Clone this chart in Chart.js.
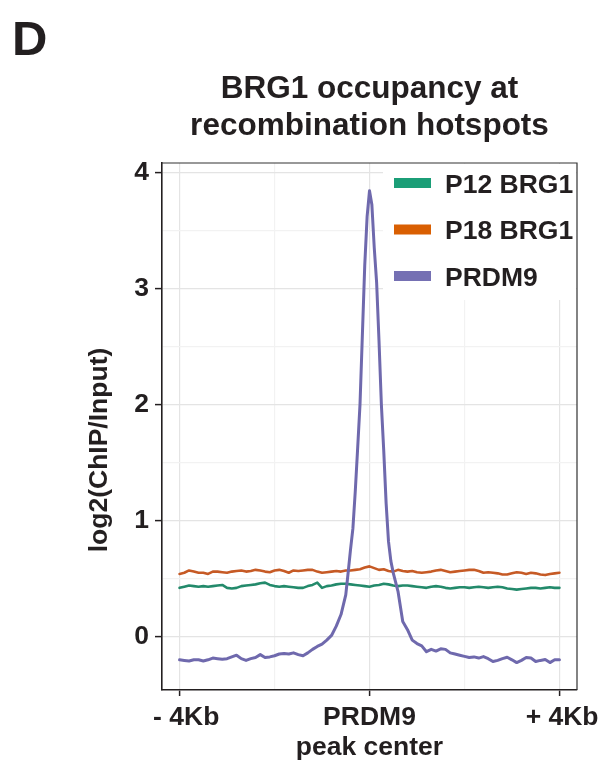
<!DOCTYPE html>
<html>
<head>
<meta charset="utf-8">
<script src="https://cdn.jsdelivr.net/npm/chart.js@4.4.0/dist/chart.umd.min.js"></script>
<style>
  html, body { margin: 0; padding: 0; background: #fff; }
  #wrap { width: 615px; height: 767px; }
</style>
</head>
<body>
<div id="wrap"><canvas id="profile"></canvas></div>
<script>
// distance from PRDM9 peak center (kb), 100 bp bins, shared by the BRG1 tracks
const binsKb = [-4.0, -3.9, -3.8, -3.7, -3.6, -3.5, -3.4, -3.3, -3.2, -3.1,
  -3.0, -2.9, -2.8, -2.7, -2.6, -2.5, -2.4, -2.3, -2.2, -2.1,
  -2.0, -1.9, -1.8, -1.7, -1.6, -1.5, -1.4, -1.3, -1.2, -1.1,
  -1.0, -0.9, -0.8, -0.7, -0.6, -0.5, -0.4, -0.3, -0.2, -0.1,
  0.0, 0.1, 0.2, 0.3, 0.4, 0.5, 0.6, 0.7, 0.8, 0.9,
  1.0, 1.1, 1.2, 1.3, 1.4, 1.5, 1.6, 1.7, 1.8, 1.9,
  2.0, 2.1, 2.2, 2.3, 2.4, 2.5, 2.6, 2.7, 2.8, 2.9,
  3.0, 3.1, 3.2, 3.3, 3.4, 3.5, 3.6, 3.7, 3.8, 3.9, 4.0];

const p12Brg1 = [0.42, 0.43, 0.44, 0.435, 0.43, 0.435, 0.43, 0.435, 0.44, 0.445,
  0.42, 0.415, 0.42, 0.435, 0.44, 0.445, 0.45, 0.46, 0.465, 0.445,
  0.435, 0.43, 0.435, 0.43, 0.425, 0.42, 0.42, 0.435, 0.445, 0.465,
  0.42, 0.435, 0.44, 0.45, 0.455, 0.455, 0.45, 0.445, 0.44, 0.435,
  0.43, 0.44, 0.445, 0.455, 0.45, 0.44, 0.435, 0.44, 0.44, 0.435,
  0.43, 0.425, 0.42, 0.43, 0.435, 0.43, 0.42, 0.415, 0.42, 0.425,
  0.425, 0.42, 0.425, 0.43, 0.425, 0.42, 0.425, 0.43, 0.425, 0.415,
  0.41, 0.405, 0.41, 0.415, 0.42, 0.42, 0.415, 0.42, 0.425, 0.42, 0.42];

const p18Brg1 = [0.54, 0.55, 0.57, 0.56, 0.55, 0.55, 0.54, 0.56, 0.56, 0.555,
  0.55, 0.56, 0.565, 0.57, 0.56, 0.565, 0.575, 0.57, 0.56, 0.555,
  0.57, 0.575, 0.565, 0.55, 0.57, 0.565, 0.57, 0.575, 0.575, 0.56,
  0.55, 0.555, 0.56, 0.565, 0.56, 0.57, 0.57, 0.575, 0.58, 0.595,
  0.605, 0.59, 0.575, 0.58, 0.565, 0.56, 0.575, 0.565, 0.56, 0.565,
  0.555, 0.55, 0.555, 0.56, 0.57, 0.575, 0.565, 0.555, 0.56, 0.565,
  0.57, 0.575, 0.575, 0.565, 0.55, 0.555, 0.55, 0.545, 0.535, 0.535,
  0.545, 0.555, 0.55, 0.54, 0.55, 0.545, 0.535, 0.53, 0.54, 0.545, 0.55];

// PRDM9 is binned more finely around the summit
const prdm9Kb = [-4.0, -3.9, -3.8, -3.7, -3.6, -3.5, -3.4, -3.3, -3.2, -3.1,
  -3.0, -2.9, -2.8, -2.7, -2.6, -2.5, -2.4, -2.3, -2.2, -2.1,
  -2.0, -1.9, -1.8, -1.7, -1.6, -1.5, -1.4, -1.3, -1.2, -1.1,
  -1.0, -0.9, -0.8, -0.7, -0.6, -0.5, -0.45, -0.4, -0.35, -0.3,
  -0.25, -0.2, -0.15, -0.1, -0.05, 0.0, 0.05, 0.1, 0.15, 0.2,
  0.25, 0.3, 0.35, 0.4, 0.45, 0.5, 0.6, 0.7, 0.8, 0.9,
  1.0, 1.1, 1.2, 1.3, 1.4, 1.5, 1.6, 1.7, 1.8, 1.9,
  2.0, 2.1, 2.2, 2.3, 2.4, 2.5, 2.6, 2.7, 2.8, 2.9,
  3.0, 3.1, 3.2, 3.3, 3.4, 3.5, 3.6, 3.7, 3.8, 3.9, 4.0];

const prdm9 = [-0.20, -0.205, -0.21, -0.20, -0.20, -0.21, -0.20, -0.185, -0.19, -0.195,
  -0.19, -0.175, -0.16, -0.19, -0.205, -0.19, -0.18, -0.155, -0.18, -0.175,
  -0.165, -0.15, -0.145, -0.15, -0.14, -0.155, -0.165, -0.14, -0.11, -0.085,
  -0.065, -0.03, 0.01, 0.09, 0.19, 0.36, 0.55, 0.75, 0.93, 1.25,
  1.62, 2.0, 2.6, 3.2, 3.62, 3.84, 3.72, 3.35, 3.05, 2.55,
  2.0, 1.6, 1.15, 0.82, 0.65, 0.55, 0.39, 0.13, 0.06, -0.03,
  -0.06, -0.08, -0.13, -0.11, -0.125, -0.105, -0.11, -0.14, -0.15, -0.16,
  -0.17, -0.18, -0.175, -0.185, -0.172, -0.19, -0.215, -0.205, -0.19, -0.178,
  -0.20, -0.224, -0.205, -0.18, -0.185, -0.215, -0.205, -0.198, -0.224, -0.20, -0.20];

const seriesNames = ['P12 BRG1', 'P18 BRG1', 'PRDM9'];
const keyColors = ['#1B9E77', '#D95F02', '#7570B3'];
const lineColors = ['#238a6b', '#c65a25', '#6f69ad'];

const yTicks = [0, 0.5, 1, 1.5, 2, 2.5, 3, 3.5, 4];
const xTicks = [-4, -2, 0, 2, 4];
const xTickLabels = ['\u2002- 4Kb', '', 'PRDM9', '', '\u2009+ 4Kb'];

const INK = '#231f20';
const FONT = 'Liberation Sans, Arial, Helvetica, sans-serif';
const LABEL_SIZE = 26.5;

function pairs(xs, ys) {
  return xs.map((x, i) => ({ x: x, y: ys[i] }));
}

// title, panel letter, y axis title, frame and the legend that sits inside the panel
const decorations = {
  id: 'decorations',
  afterDatasetsDraw(chart) {
    const { ctx, chartArea: a } = chart;
    ctx.save();

    // legend box, white so grid lines stop behind it
    ctx.fillStyle = '#fff';
    ctx.fillRect(a.right - 194, a.top + 1, 193, 136);
    ctx.font = 'bold ' + LABEL_SIZE + 'px ' + FONT;
    ctx.textAlign = 'left';
    ctx.textBaseline = 'alphabetic';
    seriesNames.forEach((name, i) => {
      const cy = a.top + 20 + i * 46.5;
      ctx.fillStyle = keyColors[i];
      ctx.fillRect(a.right - 183, cy - 5, 37, 10);
      ctx.fillStyle = INK;
      ctx.fillText(name, a.right - 132, cy + 9.5);
    });

    // top and right edges of the panel
    ctx.strokeStyle = '#333';
    ctx.lineWidth = 1.2;
    ctx.beginPath();
    ctx.moveTo(a.left, a.top);
    ctx.lineTo(a.right, a.top);
    ctx.lineTo(a.right, a.bottom);
    ctx.stroke();
    ctx.restore();
  },
  afterDraw(chart) {
    const { ctx, chartArea: a } = chart;
    const cx = (a.left + a.right) / 2;
    ctx.save();
    ctx.fillStyle = INK;
    ctx.textAlign = 'left';
    ctx.textBaseline = 'alphabetic';
    ctx.font = 'bold 49px ' + FONT;
    ctx.fillText('D', 12, 55);

    ctx.textAlign = 'center';
    ctx.font = 'bold 31.5px ' + FONT;
    ctx.fillText('BRG1 occupancy at', cx, 98);
    ctx.fillText('recombination hotspots', cx, 135);

    ctx.font = 'bold ' + LABEL_SIZE + 'px ' + FONT;
    ctx.translate(107, 450);
    ctx.rotate(-Math.PI / 2);
    ctx.fillText('log2(ChIP/Input)', 0, 0);
    ctx.restore();
  }
};

const tickFont = { family: FONT, size: LABEL_SIZE, weight: 'bold' };

new Chart(document.getElementById('profile'), {
  type: 'line',
  data: {
    datasets: [
      { label: seriesNames[0], data: pairs(binsKb, p12Brg1), borderColor: lineColors[0], borderWidth: 2.6, order: 3 },
      { label: seriesNames[1], data: pairs(binsKb, p18Brg1), borderColor: lineColors[1], borderWidth: 2.6, order: 2 },
      { label: seriesNames[2], data: pairs(prdm9Kb, prdm9), borderColor: lineColors[2], borderWidth: 3, order: 1 }
    ]
  },
  options: {
    responsive: true,
    maintainAspectRatio: false,
    animation: false,
    layout: { padding: { top: 163, right: 38, left: 0, bottom: 0 } },
    elements: {
      point: { radius: 0 },
      line: { tension: 0, borderJoinStyle: 'round', borderCapStyle: 'round' }
    },
    plugins: { legend: { display: false }, tooltip: { enabled: false } },
    scales: {
      x: {
        type: 'linear',
        min: -4.37,
        max: 4.37,
        afterFit(scale) { scale.height = 77; },
        afterBuildTicks(scale) { scale.ticks = xTicks.map(v => ({ value: v })); },
        ticks: {
          autoSkip: false,
          maxRotation: 0,
          padding: 6,
          color: INK,
          font: tickFont,
          callback: (v, i) => xTickLabels[i]
        },
        grid: {
          color: c => (c.tick && c.tick.value % 4 === 0) ? '#e4e4e4' : '#f2f2f2',
          lineWidth: 1.2,
          tickLength: 6,
          tickWidth: 1.5,
          tickColor: c => (c.tick && c.tick.value % 4 === 0) ? INK : 'rgba(0,0,0,0)'
        },
        border: { color: INK, width: 1.6 },
        title: {
          display: true,
          text: 'peak center',
          color: INK,
          font: tickFont,
          padding: { top: 0, bottom: 3 }
        }
      },
      y: {
        type: 'linear',
        min: -0.46,
        max: 4.08,
        afterFit(scale) { scale.width = 162; },
        afterBuildTicks(scale) { scale.ticks = yTicks.map(v => ({ value: v })); },
        ticks: {
          autoSkip: false,
          padding: 6,
          color: INK,
          font: tickFont,
          callback: v => Number.isInteger(v) ? String(v) : ''
        },
        grid: {
          color: c => (c.tick && Number.isInteger(c.tick.value)) ? '#e4e4e4' : '#f2f2f2',
          lineWidth: 1.2,
          tickLength: 7,
          tickWidth: 1.5,
          tickColor: c => (c.tick && Number.isInteger(c.tick.value)) ? INK : 'rgba(0,0,0,0)'
        },
        border: { color: INK, width: 1.6 }
      }
    }
  },
  plugins: [decorations]
});
</script>
</body>
</html>
